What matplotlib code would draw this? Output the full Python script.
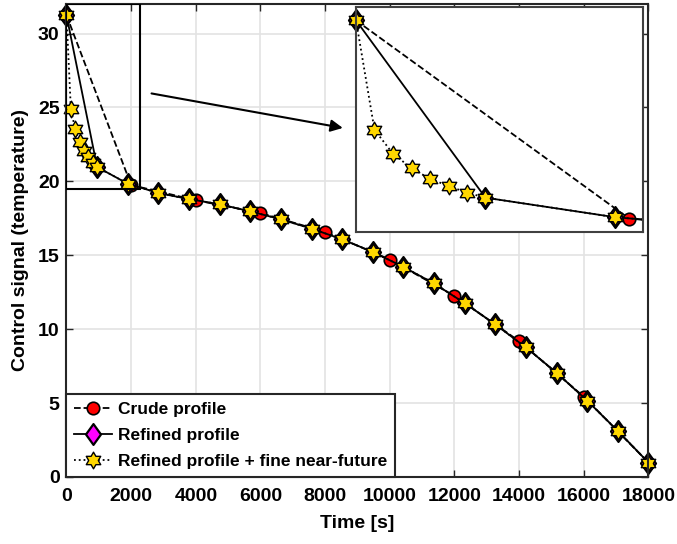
import numpy as np
import matplotlib
matplotlib.use('Agg')
import matplotlib.pyplot as plt
from matplotlib.path import Path
from matplotlib.patches import Rectangle

plt.rcParams['font.family'] = ['Liberation Sans', 'DejaVu Sans']
plt.rcParams['font.weight'] = 'bold'

# crude profile: one set-point every 2000 s
t_crude = [0, 2000, 4000, 6000, 8000, 10000, 12000, 14000, 16000, 18000]
u_crude = [31.24, 19.75, 18.72, 17.86, 16.58, 14.71, 12.25, 9.19, 5.43, 0.97]

# refined profile: 19 intervals
t_refined = [0, 947, 1895, 2842, 3789, 4737, 5684, 6632, 7579, 8526,
             9474, 10421, 11368, 12316, 13263, 14211, 15158, 16105, 17053, 18000]
u_refined = [31.24, 20.97, 19.84, 19.21, 18.80, 18.45, 17.97, 17.43, 16.80, 16.08,
             15.22, 14.21, 13.09, 11.76, 10.32, 8.76, 7.05, 5.16, 3.11, 0.97]

# refined profile + fine near-future (first interval split in 7)
t_fine = [0, 135, 271, 406, 541, 677, 812, 947, 1895, 2842, 3789, 4737, 5684,
          6632, 7579, 8526, 9474, 10421, 11368, 12316, 13263, 14211, 15158,
          16105, 17053, 18000]
u_fine = [31.24, 24.90, 23.51, 22.68, 22.06, 21.65, 21.26, 20.97, 19.84, 19.21,
          18.80, 18.45, 17.97, 17.43, 16.80, 16.08, 15.22, 14.21, 13.09, 11.76,
          10.32, 8.76, 7.05, 5.16, 3.11, 0.97]

labels = ['Crude profile', 'Refined profile', 'Refined profile + fine near-future']

# matlab-like hexagram and diamond markers
ang = np.deg2rad(90 + 30 * np.arange(12))
rad = np.where(np.arange(12) % 2 == 0, 1.0, 0.577)
hexagram = Path(np.c_[rad * np.cos(ang), rad * np.sin(ang)].tolist() + [[0, 1]], closed=True)
diamond = Path([[0, 1], [0.72, 0], [0, -1], [-0.72, 0], [0, 1]], closed=True)

styles = [
    dict(ls='--', marker='o', mfc='#ff0000', mec='k', ms=9, mew=1.2),
    dict(ls='-', marker=diamond, mfc='#ff00ff', mec='k', ms=15, mew=1.6),
    dict(ls=':', marker=hexagram, mfc='#ffd700', mec='k', ms=12, mew=1.0),
]
series = [(t_crude, u_crude), (t_refined, u_refined), (t_fine, u_fine)]

fig = plt.figure(figsize=(6.77, 5.44), dpi=100)
ax = fig.add_axes([0.0982, 0.1232, 0.8597, 0.8695])

for (t, u), st, lab in zip(series, styles, labels):
    ax.plot(t, u, color='k', lw=1.3, label=lab, clip_on=False, **st)

ax.set_xlim(0, 18000)
ax.set_ylim(0, 32)
ax.set_xticks(range(0, 18001, 2000))
ax.set_yticks(range(0, 31, 5))
ax.grid(True, color='#e3e3e3', lw=1.2)
ax.set_axisbelow(True)
ax.tick_params(direction='in', top=True, right=True, length=5, width=1,
               labelsize=14, color='#262626')
ax.tick_params(axis='x', pad=8)
ax.tick_params(axis='y', pad=5)
for sp in ax.spines.values():
    sp.set_color('#262626')
    sp.set_linewidth(1.5)
ax.set_xlabel('Time [s]', fontsize=14, fontweight='bold', labelpad=7)
ax.set_ylabel('Control signal (temperature)', fontsize=14, fontweight='bold', labelpad=6)

leg = ax.legend(loc='lower left', bbox_to_anchor=(0, 0), borderaxespad=0,
                fontsize=12.5, fancybox=False, framealpha=1, edgecolor='#262626',
                handlelength=2.2, handletextpad=0.3, labelspacing=0.62,
                borderpad=0.45)
leg.get_frame().set_linewidth(1.5)

# zoom box and arrow
ax.add_patch(Rectangle((0, 19.45), 2270, 12.55, fill=False, ec='k', lw=1.5, zorder=5))
ax.annotate('', xy=(8630, 23.58), xytext=(2546, 25.98),
            arrowprops=dict(arrowstyle='-|>', color='k', lw=1.5, mutation_scale=18))

# inset
axins = fig.add_axes([0.5259, 0.5741, 0.4239, 0.4125])
x0, x1 = 0, 2100
for (t, u), st in zip(series, styles):
    axins.plot(t, u, color='k', lw=1.3, ls=st['ls'])
    tin = [a for a in t if a <= x1]
    uin = [b for a, b in zip(t, u) if a <= x1]
    mst = {k: v for k, v in st.items() if k != 'ls'}
    axins.plot(tin, uin, ls='none', clip_on=False, **mst)
axins.set_xlim(x0, x1)
axins.set_ylim(19, 32)
axins.set_xticks([])
axins.set_yticks([])
for sp in axins.spines.values():
    sp.set_color('#404040')
    sp.set_linewidth(1.5)

fig.savefig('out.png', dpi=100)
